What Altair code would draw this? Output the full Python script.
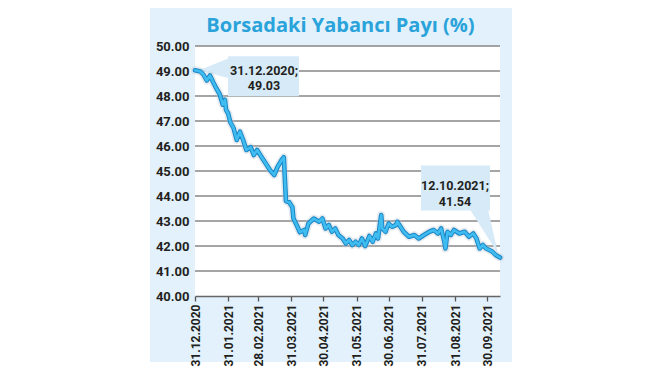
import altair as alt
import pandas as pd

title_text = "Borsadaki Yabancı Payı (%)"

dates = [
    "2020-12-31", "2021-01-05", "2021-01-08", "2021-01-11", "2021-01-14", "2021-01-17",
    "2021-01-20", "2021-01-23", "2021-01-26", "2021-01-28", "2021-01-29", "2021-01-31",
    "2021-02-02", "2021-02-05", "2021-02-08", "2021-02-11", "2021-02-14", "2021-02-17",
    "2021-02-21", "2021-02-24", "2021-02-27",
    "2021-03-03", "2021-03-07", "2021-03-11", "2021-03-15", "2021-03-18", "2021-03-22",
    "2021-03-24", "2021-03-26", "2021-03-29",
    "2021-04-01", "2021-04-02", "2021-04-05", "2021-04-08", "2021-04-12", "2021-04-13",
    "2021-04-16", "2021-04-21", "2021-04-26", "2021-04-29",
    "2021-05-02", "2021-05-05", "2021-05-08", "2021-05-11", "2021-05-14", "2021-05-18",
    "2021-05-21", "2021-05-24", "2021-05-27", "2021-05-30",
    "2021-06-02", "2021-06-05", "2021-06-08", "2021-06-12", "2021-06-15", "2021-06-18",
    "2021-06-20", "2021-06-23", "2021-06-24", "2021-06-27", "2021-06-30",
    "2021-07-03", "2021-07-07", "2021-07-08", "2021-07-11", "2021-07-14", "2021-07-19",
    "2021-07-24", "2021-07-28",
    "2021-08-02", "2021-08-07", "2021-08-11", "2021-08-15", "2021-08-18", "2021-08-21",
    "2021-08-22", "2021-08-24", "2021-08-27", "2021-08-30",
    "2021-09-04", "2021-09-09", "2021-09-13", "2021-09-17", "2021-09-20", "2021-09-23",
    "2021-09-26", "2021-09-29",
    "2021-10-02", "2021-10-05", "2021-10-08", "2021-10-12",
]

values = [
    49.03, 48.98, 48.85, 48.62, 48.82, 48.55, 48.30, 48.08, 47.65, 47.85, 47.45, 47.30,
    46.95, 46.72, 46.24, 46.57, 46.24, 45.84, 45.95, 45.64, 45.84,
    45.57, 45.31, 45.04, 44.84, 45.15, 45.44, 45.55, 43.80, 43.75,
    43.55, 43.10, 42.84, 42.55, 42.64, 42.44, 42.90, 43.10, 42.97, 43.10,
    42.70, 42.84, 42.57, 42.70, 42.44, 42.30, 42.10, 42.24, 42.04, 42.17,
    42.04, 42.30, 42.00, 42.40, 42.17, 42.50, 42.30, 43.24, 42.70, 42.57, 42.90,
    42.77, 42.84, 42.97, 42.77, 42.57, 42.37, 42.44, 42.30,
    42.44, 42.57, 42.64, 42.50, 42.70, 42.17, 41.90, 42.57, 42.44, 42.64,
    42.50, 42.57, 42.37, 42.50, 42.30, 41.90, 42.04, 41.90,
    41.84, 41.77, 41.64, 41.54,
]

x_tick_dates = [
    "2020-12-31", "2021-01-31", "2021-02-28", "2021-03-31", "2021-04-30",
    "2021-05-31", "2021-06-30", "2021-07-31", "2021-08-31", "2021-09-30",
]
y_ticks = [40, 41, 42, 43, 44, 45, 46, 47, 48, 49, 50]
grid_levels = [41, 42, 43, 44, 45, 46, 47, 48, 49, 50]
x_domain = ["2020-12-31", "2021-10-12"]
y_domain = [40, 50]

start_label = ["31.12.2020;", "49.03"]
end_label = ["12.10.2021;", "41.54"]

# ---------------------------------------------------------------
W, H = 305, 250
FONT = "Roboto"
PANEL = "#e2f1fb"
BOX = "#d6eaf8"
TXT = "#231f20"


def dt(s):
    y, m, d = (int(p) for p in s.split("-"))
    return alt.DateTime(year=y, month=m, date=d)


df = pd.DataFrame({"date": [d + "T00:00:00" for d in dates], "value": values})
start_df = df.iloc[[0]].copy()
end_df = df.iloc[[-1]].copy()
grid_df = pd.DataFrame({"date": [dates[0] + "T00:00:00"] * len(grid_levels),
                        "value": grid_levels})
one = pd.DataFrame({"date": [dates[0] + "T00:00:00"], "value": [y_domain[0]]})

x_scale = alt.Scale(domain=[dt(x_domain[0]), dt(x_domain[1])])
y_scale = alt.Scale(domain=y_domain, nice=False, zero=False)

x_axis = alt.Axis(
    title=None, values=[dt(s) for s in x_tick_dates], format="%d.%m.%Y",
    labelAngle=-90, labelFont=FONT, labelFontSize=12, labelFontWeight="bold",
    labelColor=TXT, labelPadding=3, tickSize=5, tickColor="#555555", tickWidth=1.3,
    domainColor="#666666", domainWidth=1.6, grid=False, zindex=1, labelOverlap=False,
)
y_axis = alt.Axis(
    title=None, values=y_ticks, format=".2f", labelFont=FONT, labelFontSize=13,
    labelFontWeight="bold", labelColor=TXT, labelPadding=6, ticks=False,
    domain=False, grid=False, zindex=1, labelOverlap=False,
)

X = alt.X("date:T", scale=x_scale, axis=x_axis)
Y = alt.Y("value:Q", scale=y_scale, axis=y_axis)

# white page around the light-blue panel (the chart background is the panel colour)
TOP = -38
white_left = alt.Chart(one).mark_rect(color="white").encode(
    x=alt.value(-187), x2=alt.value(-45), y=alt.value(TOP), y2=alt.value(325)
)
white_right = alt.Chart(one).mark_rect(color="white").encode(
    x=alt.value(317), x2=alt.value(455), y=alt.value(TOP), y2=alt.value(325)
)
white_bottom = alt.Chart(one).mark_rect(color="white").encode(
    x=alt.value(-187), x2=alt.value(455), y=alt.value(316), y2=alt.value(325)
)
plot_bg = alt.Chart(one).mark_rect(color="white").encode(
    x=alt.value(0), x2=alt.value(W), y=alt.value(0), y2=alt.value(H)
)
grid = alt.Chart(grid_df).mark_rule(color="#878787", strokeWidth=1.4).encode(y=Y)

box_style = dict(filled=True, fill=BOX, strokeWidth=0, opacity=1, size=4)
start_box = alt.Chart(start_df).mark_point(
    shape="M33,-14H104V26H33ZM4,0L34,-12L34,8Z", **box_style
).encode(x=X, y=Y)
end_box = alt.Chart(end_df).mark_point(
    shape="M-79,-92H-10V-47H-79ZM-30,-48L-12,-48L-2,-4Z", **box_style
).encode(x=X, y=Y)

glow = alt.Chart(df).mark_line(
    color="#b8c6d2", strokeWidth=8, opacity=0.35, strokeJoin="round", strokeCap="round"
).encode(x=X, y=Y)
outline = alt.Chart(df).mark_line(
    color="#1b86c6", strokeWidth=4.6, strokeJoin="round", strokeCap="round"
).encode(x=X, y=Y)
inner = alt.Chart(df).mark_line(
    color="#3fbcf0", strokeWidth=2.6, strokeJoin="round", strokeCap="round"
).encode(x=X, y=Y)

txt_style = dict(font=FONT, fontSize=12.5, fontWeight="bold", color=TXT,
                 align="center", baseline="middle")
s1 = alt.Chart(start_df).mark_text(text=start_label[0], dx=69, dy=1, **txt_style).encode(x=X, y=Y)
s2 = alt.Chart(start_df).mark_text(text=start_label[1], dx=69, dy=16, **txt_style).encode(x=X, y=Y)
e1 = alt.Chart(end_df).mark_text(text=end_label[0], dx=-45, dy=-72, **txt_style).encode(x=X, y=Y)
e2 = alt.Chart(end_df).mark_text(text=end_label[1], dx=-45, dy=-56, **txt_style).encode(x=X, y=Y)

chart = alt.layer(
    white_left, white_right, white_bottom, plot_bg, grid, start_box, end_box,
    glow, outline, inner, s1, s2, e1, e2
).properties(
    width=W, height=H,
    title=alt.TitleParams(
        text=title_text, font="Open Sans", fontSize=20, fontWeight="bold",
        color="#29a3da", anchor="middle", dx=-7, dy=44, offset=0, baseline="alphabetic",
    ),
    autosize=alt.AutoSizeParams(type="none"),
    padding={"left": 187, "top": 38, "right": 150, "bottom": 75},
    background=PANEL,
).configure_view(stroke=None)

chart.save("out.html", embed_options={"renderer": "svg", "actions": False})
